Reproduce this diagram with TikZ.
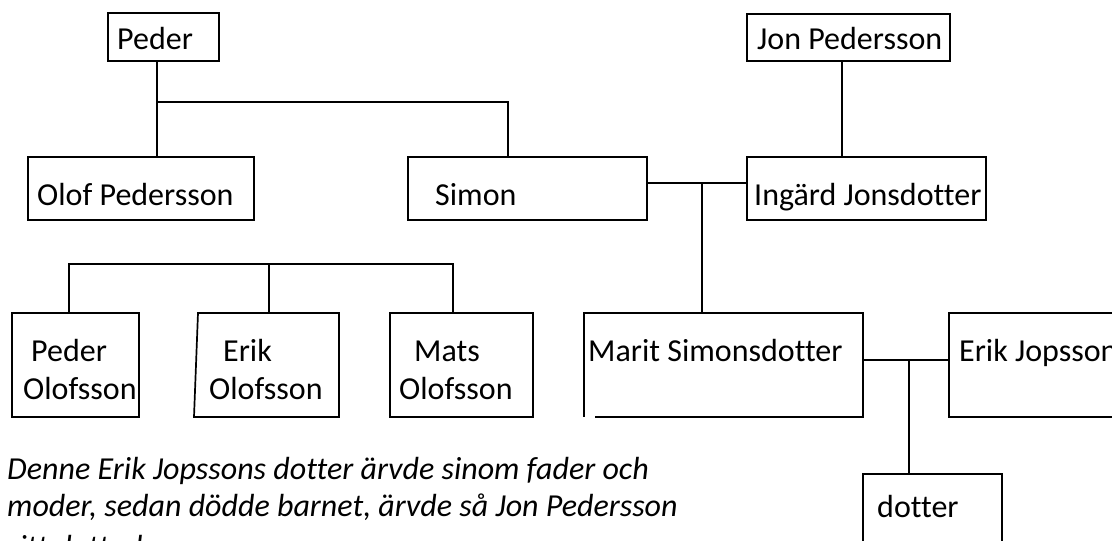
\documentclass[tikz,border=0pt]{standalone}
\usepackage{fontspec}
\setmainfont[Ligatures=NoCommon]{Carlito}
\begin{document}
\begin{tikzpicture}[x=1pt,y=-1pt,
    lin/.style={line width=1.7pt},
    person/.style={draw,lin,anchor=north west,inner sep=0pt,outer sep=0pt},
    namn/.style={anchor=base west,inner sep=0pt,font=\fontsize{32}{38}\selectfont},
    rad/.style={namn,font=\fontsize{32}{37}\selectfont\itshape}]
    \useasboundingbox (0,0) rectangle (1112,541);
    \clip (0,0) rectangle (1112,541);
    % boxes
    \node[person,minimum width=111pt,minimum height=48pt] (peder) at (108,13) {};
    \node[person,minimum width=226pt,minimum height=63pt] (olof) at (28,157) {};
    \node[person,minimum width=239pt,minimum height=63pt] (simon) at (408,157) {};
    \node[person,minimum width=203pt,minimum height=47pt] (jon) at (747,14) {};
    \node[person,minimum width=239pt,minimum height=63pt] (ingard) at (747,157) {};
    \node[person,minimum width=127pt,minimum height=104pt] (pedero) at (12,313) {};
    \node[person,draw=none,minimum width=143pt,minimum height=104pt] (eriko) at (196,313) {};
    \node[person,minimum width=143pt,minimum height=104pt] (mats) at (390,313) {};
    \node[person,draw=none,minimum width=279pt,minimum height=104pt] (marit) at (584,313) {};
    \node[person,minimum width=200pt,minimum height=104pt] (erikj) at (949,313) {};
    \node[person,minimum width=139pt,minimum height=100pt] (dotter) at (863,474) {};
    \draw[lin] ([xshift=2pt]eriko.north west) -- (eriko.north east) -- (eriko.south east) -- ([xshift=-2pt]eriko.south west) -- cycle;
    \draw[lin] ([xshift=11pt]marit.south west) -- (marit.south east) -- (marit.north east) -- (marit.north west) -- (marit.south west);
    % names
    \node[namn] (pedertxt) at (117,49) {Peder};
    \node[namn] (oloftxt) at (37,205) {Olof Pedersson};
    \node[namn] (simontxt) at (435,205) {Simon};
    \node[namn] (jontxt) at (757,49) {Jon Pedersson};
    \node[namn] (ingardtxt) at (754,205) {Ingärd Jonsdotter};
    \node[namn] (pederoa) at (31,361) {Peder};
    \node[namn] (pederob) at (23,399) {Olofsson};
    \node[namn] (erikoa) at (223,361) {Erik};
    \node[namn] (erikob) at (209,399) {Olofsson};
    \node[namn] (matsa) at (414,361) {Mats};
    \node[namn] (matsb) at (399,399) {Olofsson};
    \node[namn] (marittxt) at (588,361) {Marit Simonsdotter};
    \node[namn] (erikjtxt) at (959,361) {Erik Jopsson};
    \node[namn] (dottertxt) at (877,517) {dotter};
    % lines
    \coordinate (pj) at (157,102);
    \coordinate (sj) at (508,102);
    \draw[lin] (pj |- peder.south) -- (pj |- olof.north);
    \draw[lin] (pj) -- (sj) -- (sj |- simon.north);
    \draw[lin] ([xshift=-6.5pt]jon.south) -- ([xshift=-6.5pt]jon.south |- ingard.north);
    \draw[lin] ([yshift=5.5pt]simon.east) -- ([yshift=5.5pt]ingard.west);
    \coordinate (sm) at (702,183);
    \draw[lin] (sm) -- (sm |- marit.north);
    \draw[lin] ([yshift=5pt]marit.east) -- ([yshift=5pt]erikj.west);
    \coordinate (me) at (909,360);
    \draw[lin] (me) -- (me |- dotter.north);
    \coordinate (ob) at (269,264);
    \draw[lin] ([xshift=-6.5pt]pedero.north) |- (ob) -| ([xshift=-8.5pt]mats.north);
    \draw[lin] (ob) -- (ob |- eriko.north);
    % note
    \node[rad] (rad1) at (7,479) {Denne Erik Jopssons dotter ärvde sinom fader och};
    \node[rad] (rad2) at (7,516) {moder, sedan dödde barnet, ärvde så Jon Pedersson};
    \node[rad] (rad3) at (7,557) {sitt dotterbarn.};
\end{tikzpicture}
\end{document}
